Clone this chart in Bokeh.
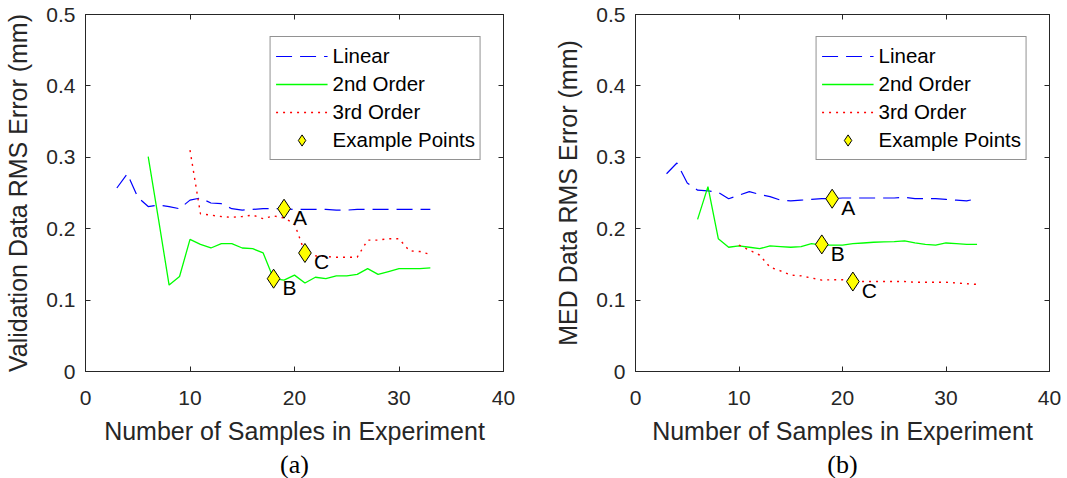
from bokeh.plotting import figure
from bokeh.layouts import row
from bokeh.models import Range1d, FixedTicker, LinearAxis, Title, ColumnDataSource
from bokeh.embed import file_html
from bokeh.resources import INLINE
from bokeh.core.properties import value

# ---------------- data ----------------
n_linear = list(range(3, 34))
n_second = list(range(6, 34))
n_third = list(range(10, 34))

# (a) validation data
a_linear = [0.257, 0.277, 0.244, 0.231, 0.233, 0.231, 0.228, 0.240, 0.243, 0.236,
            0.235, 0.228, 0.226, 0.227, 0.228, 0.228, 0.228, 0.227, 0.227, 0.227,
            0.227, 0.226, 0.226, 0.227, 0.227, 0.227, 0.227, 0.227, 0.227, 0.227, 0.227]
a_second = [0.301, 0.212, 0.121, 0.133, 0.185, 0.178, 0.173, 0.179, 0.179, 0.173,
            0.172, 0.166, 0.130, 0.128, 0.135, 0.124, 0.132, 0.130, 0.134, 0.134,
            0.136, 0.144, 0.136, 0.140, 0.144, 0.144, 0.144, 0.145]
a_third = [0.310, 0.221, 0.219, 0.217, 0.216, 0.217, 0.219, 0.214, 0.218, 0.215,
           0.207, 0.166, 0.162, 0.161, 0.160, 0.160, 0.160, 0.184, 0.184, 0.186,
           0.186, 0.169, 0.168, 0.164]
a_ex_n = [19, 18, 21]
a_ex_v = [0.228, 0.130, 0.166]

# (b) MED data
b_linear = [0.277, 0.292, 0.264, 0.254, 0.253, 0.251, 0.242, 0.247, 0.252, 0.248,
            0.245, 0.240, 0.239, 0.240, 0.241, 0.242, 0.242, 0.243, 0.243, 0.243,
            0.243, 0.243, 0.243, 0.244, 0.242, 0.242, 0.242, 0.241, 0.240, 0.239, 0.242]
b_second = [0.213, 0.259, 0.186, 0.174, 0.176, 0.174, 0.172, 0.176, 0.175, 0.174,
            0.175, 0.179, 0.177, 0.177, 0.177, 0.179, 0.180, 0.181, 0.1815, 0.182,
            0.183, 0.180, 0.178, 0.177, 0.180, 0.179, 0.178, 0.178]
b_third = [0.177, 0.170, 0.163, 0.146, 0.141, 0.135, 0.134, 0.131, 0.128, 0.1285,
           0.1285, 0.126, 0.126, 0.126, 0.126, 0.126, 0.126, 0.125, 0.125, 0.125,
           0.125, 0.124, 0.123, 0.122]
b_ex_n = [19, 18, 21]
b_ex_v = [0.242, 0.178, 0.126]

ex_labels = ["A", "B", "C"]
x_ticks = [0, 10, 20, 30, 40]
y_ticks = [0, 0.1, 0.2, 0.3, 0.4, 0.5]
y_tick_labels = ["0", "0.1", "0.2", "0.3", "0.4", "0.5"]

AX = "#262626"
SANS = "Liberation Sans"


def style_axis(ax):
    ax.axis_line_color = AX
    ax.major_tick_line_color = AX
    ax.major_tick_in = 5
    ax.major_tick_out = 0
    ax.minor_tick_line_color = None
    ax.major_label_text_font = SANS
    ax.major_label_text_font_size = "21px"
    ax.major_label_text_color = AX
    ax.axis_label_text_font = SANS
    ax.axis_label_text_font_size = "25px"
    ax.axis_label_text_font_style = "normal"
    ax.axis_label_text_color = AX


def make(lin, sec, thi, exn, exv, ylabel, caption, width, bl, br):
    p = figure(width=width, height=478, output_backend="svg", toolbar_location=None,
               x_range=Range1d(0, 40), y_range=Range1d(0, 0.5),
               min_border_left=bl, min_border_right=br, min_border_top=14,
               min_border_bottom=106)
    p.grid.visible = False
    p.outline_line_color = AX
    p.background_fill_color = "white"
    p.border_fill_color = "white"

    p.line(n_linear, lin, line_color="#0000ff", line_width=1.2, line_dash="16 8",
           legend_label="Linear")
    p.line(n_second, sec, line_color="#00ff00", line_width=1.3, legend_label="2nd Order")
    p.line(n_third, thi, line_color="#ff0000", line_width=1.4, line_dash="2 5",
           legend_label="3rd Order")
    p.scatter(exn, exv, marker="diamond", size=19, fill_color="#ffff00",
              line_color="black", line_width=1, legend_label="Example Points")
    src = ColumnDataSource(dict(x=exn, y=exv, t=ex_labels))
    p.text("x", "y", "t", source=src, x_offset=9, y_offset=9,
           text_baseline="alphabetic", text_align="left", text_font_size="21px",
           text_font=value(SANS), text_color="black")

    xb = p.xaxis[0]
    yl = p.yaxis[0]
    xb.ticker = FixedTicker(ticks=x_ticks)
    yl.ticker = FixedTicker(ticks=y_ticks)
    yl.major_label_overrides = {t: s for t, s in zip(y_ticks, y_tick_labels)}
    style_axis(xb)
    style_axis(yl)
    xb.major_label_standoff = 19
    xb.axis_label = "Number of Samples in Experiment"
    xb.axis_label_standoff = 9
    yl.major_label_standoff = 10
    yl.axis_label = ylabel
    yl.axis_label_standoff = 11

    xt = LinearAxis(ticker=FixedTicker(ticks=x_ticks))
    yr = LinearAxis(ticker=FixedTicker(ticks=y_ticks))
    for ax in (xt, yr):
        style_axis(ax)
        ax.major_label_text_font_size = "1px"
        ax.major_label_text_color = None
        ax.major_label_standoff = 0
    p.add_layout(xt, "above")
    p.add_layout(yr, "right")

    p.add_layout(Title(text=caption, align="center", text_font="Liberation Serif",
                       text_font_size="26px", text_font_style="normal",
                       text_color="black", standoff=0), "below")

    lg = p.legend[0]
    lg.location = "top_right"
    lg.margin = 22
    lg.padding = 5
    lg.spacing = 0
    lg.glyph_width = 52
    lg.glyph_height = 28
    lg.label_height = 20
    lg.label_standoff = 5
    lg.label_text_font = SANS
    lg.label_text_font_size = "20.5px"
    lg.label_text_color = "black"
    lg.border_line_color = AX
    lg.border_line_width = 1
    lg.background_fill_alpha = 1
    return p


pa = make(a_linear, a_second, a_third, a_ex_n, a_ex_v,
          "Validation Data RMS Error (mm)", "(a)", 533, 85, 30)
pb = make(b_linear, b_second, b_third, b_ex_n, b_ex_v,
          "MED Data RMS Error (mm)", "(b)", 534, 102, 18)

layout = row(pa, pb)
open("out.html", "w").write(file_html(layout, INLINE))
